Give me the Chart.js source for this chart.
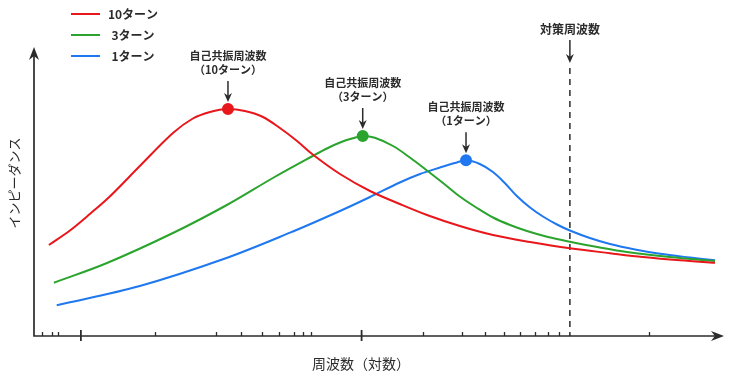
<!DOCTYPE html>
<html lang="ja">
<head>
<meta charset="utf-8">
<script src="https://cdn.jsdelivr.net/npm/chart.js@4.4.1/dist/chart.umd.min.js"></script>
<style>
  html, body { margin: 0; padding: 0; background: #fff; }
  #wrap { width: 729px; height: 379px; position: relative; }
</style>
</head>
<body>
<div id="wrap"><canvas id="chart"></canvas></div>
<script>
// x = log10(frequency) in decades from the first major tick, y = impedance (arbitrary units)
const turnLabels = ['10ターン', '3ターン', '1ターン'];
const seriesColors = ['#e8171c', '#2ba42e', '#1f78f0'];

const freq10 = [-0.114, -0.039, 0.032, 0.103, 0.210, 0.328, 0.399, 0.460, 0.524, 0.584, 0.645, 0.709, 0.770, 0.826,
                0.923, 1.030, 1.136, 1.233, 1.350, 1.468, 1.600, 1.742, 1.885, 2.002, 2.134, 2.259];
const imp10  = [91, 105.5, 122, 139.5, 170, 203, 217.5, 224, 227, 225, 219.5, 208, 195, 181.5,
                162, 145, 132, 121, 110, 101, 94, 87.7, 82.8, 79, 75.7, 73.3];

const freq3 = [-0.096, 0.093, 0.328, 0.520, 0.684, 0.826, 0.880, 0.930, 0.969, 1.004, 1.047, 1.112, 1.172,
               1.233, 1.290, 1.350, 1.411, 1.468, 1.529, 1.589, 1.664, 1.742, 1.849, 1.945, 2.098, 2.259];
const imp3  = [53.3, 73, 103, 131, 158, 180, 188, 194.2, 197.7, 200, 198.2, 190, 178.5,
               165.5, 153, 139.5, 128, 118.5, 111, 105, 99, 94.3, 88.5, 84, 79, 75];

const freq1 = [-0.086, 0.210, 0.506, 0.745, 0.923, 1.030, 1.136, 1.208, 1.279, 1.332, 1.372, 1.421, 1.468,
               1.510, 1.553, 1.600, 1.646, 1.696, 1.742, 1.813, 1.885, 1.974, 2.063, 2.170, 2.259];
const imp1  = [30.7, 50, 76.7, 103.3, 125, 139, 153.5, 162, 168.5, 173, 175.7, 172, 164,
               153, 140, 128.5, 119.5, 111.5, 105.5, 98, 92, 86.5, 82.2, 78.5, 75.7];

const majorTicks = [0, 1];
const minorTicks = [-0.140, -0.104, -0.081, 0.263, 0.483, 0.570, 0.644, 0.706, 0.759, 0.790, 0.818,
                    1.217, 1.356, 1.439, 1.508, 1.564, 1.617, 1.665, 1.704, 2.024];
const countermeasureFreq = 1.742;

const xTitle = '周波数（対数）';
const yTitle = 'インピーダンス';
const peakTitle = '自己共振周波数';
const markerTitle = '対策周波数';

const FONT = '"Noto Sans CJK JP", "Noto Sans", sans-serif';
const INK = '#2b2b2b';

const series = [[freq10, imp10], [freq3, imp3], [freq1, imp1]];

function peakIndex(arr) {
  let k = 0;
  arr.forEach((v, i) => { if (v > arr[k]) k = i; });
  return k;
}

function arrowHead(ctx, x, y, dir, w, len) {
  // dir: 'down' | 'up' | 'right'
  ctx.beginPath();
  if (dir === 'down') {
    ctx.moveTo(x, y); ctx.lineTo(x - w, y - len); ctx.lineTo(x, y - len * 0.7); ctx.lineTo(x + w, y - len);
  } else if (dir === 'up') {
    ctx.moveTo(x, y); ctx.lineTo(x - w, y + len); ctx.lineTo(x, y + len * 0.7); ctx.lineTo(x + w, y + len);
  } else {
    ctx.moveTo(x, y); ctx.lineTo(x - len, y - w); ctx.lineTo(x - len * 0.7, y); ctx.lineTo(x - len, y + w);
  }
  ctx.closePath();
  ctx.fill();
}

function downArrow(ctx, x, y0, y1) {
  ctx.beginPath();
  ctx.moveTo(x, y0);
  ctx.lineTo(x, y1 - 4);
  ctx.stroke();
  arrowHead(ctx, x, y1, 'down', 4, 9);
}

const decorPlugin = {
  id: 'decor',
  beforeDatasetsDraw(chart) {
    const { ctx, chartArea: a, scales: { x } } = chart;
    ctx.save();
    ctx.strokeStyle = INK;
    ctx.fillStyle = INK;
    ctx.lineWidth = 1.7;

    // axes
    ctx.beginPath();
    ctx.moveTo(a.left, a.top + 6);
    ctx.lineTo(a.left, a.bottom);
    ctx.lineTo(a.right - 6, a.bottom);
    ctx.stroke();
    arrowHead(ctx, a.left, a.top, 'up', 5, 13);
    arrowHead(ctx, a.right, a.bottom, 'right', 5, 13);

    // ticks
    ctx.lineWidth = 1.3;
    minorTicks.forEach(v => {
      const px = Math.round(x.getPixelForValue(v)) + 0.5;
      ctx.beginPath(); ctx.moveTo(px, a.bottom - 4); ctx.lineTo(px, a.bottom); ctx.stroke();
    });
    ctx.lineWidth = 1.8;
    majorTicks.forEach(v => {
      const px = x.getPixelForValue(v);
      ctx.beginPath(); ctx.moveTo(px, a.bottom - 6); ctx.lineTo(px, a.bottom + 5); ctx.stroke();
    });

    // countermeasure frequency
    const cx = x.getPixelForValue(countermeasureFreq);
    ctx.font = `bold 12px ${FONT}`;
    ctx.textAlign = 'center';
    ctx.textBaseline = 'middle';
    ctx.fillText(markerTitle, cx, 29);
    ctx.lineWidth = 1.5;
    downArrow(ctx, cx, 40, 63);
    ctx.setLineDash([6, 5]);
    ctx.beginPath();
    ctx.moveTo(cx, 68);
    ctx.lineTo(cx, a.bottom);
    ctx.stroke();
    ctx.setLineDash([]);

    // axis titles
    ctx.font = `14px ${FONT}`;
    ctx.fillText(xTitle, 361, 364);
    ctx.font = `13px ${FONT}`;
    ctx.save();
    ctx.translate(14, 183);
    ctx.rotate(-Math.PI / 2);
    ctx.fillText(yTitle, 0, 0);
    ctx.restore();

    // legend
    ctx.font = `bold 12px ${FONT}`;
    chart.data.datasets.forEach((ds, i) => {
      const ly = 14 + i * 21;
      ctx.strokeStyle = ds.borderColor;
      ctx.lineWidth = 2;
      ctx.beginPath(); ctx.moveTo(71, ly); ctx.lineTo(100, ly); ctx.stroke();
      ctx.fillStyle = INK;
      ctx.fillText(ds.label, 133, ly);
    });
    ctx.restore();
  },
  afterDatasetsDraw(chart) {
    const { ctx } = chart;
    ctx.save();
    ctx.fillStyle = INK;
    ctx.strokeStyle = INK;
    ctx.lineWidth = 1.5;
    ctx.textAlign = 'center';
    ctx.textBaseline = 'middle';
    ctx.font = `bold 11px ${FONT}`;
    chart.data.datasets.forEach((ds, i) => {
      const k = peakIndex(series[i][1]);
      const p = chart.getDatasetMeta(i).data[k];
      ctx.fillText(peakTitle, p.x, p.y - 53);
      ctx.fillText(`（${ds.label}）`, p.x, p.y - 39);
      downArrow(ctx, p.x, p.y - 28, p.y - 7);
    });
    ctx.restore();
  }
};

const datasets = series.map(([fx, fy], i) => {
  const k = peakIndex(fy);
  return {
    label: turnLabels[i],
    data: fx.map((v, j) => ({ x: v, y: fy[j] })),
    borderColor: seriesColors[i],
    backgroundColor: seriesColors[i],
    borderWidth: 2,
    tension: 0.35,
    pointRadius: fy.map((_, j) => (j === k ? 5 : 0)),
    pointHoverRadius: 0,
    fill: false,
  };
});

new Chart(document.getElementById('chart'), {
  type: 'line',
  plugins: [decorPlugin],
  data: { datasets },
  options: {
    responsive: true,
    maintainAspectRatio: false,
    animation: false,
    layout: { padding: { left: 34, right: 5, top: 47, bottom: 43 } },
    scales: {
      x: { type: 'linear', display: false, min: -0.167, max: 2.291 },
      y: { type: 'linear', display: false, min: 0, max: 289 },
    },
    plugins: {
      legend: { display: false },
      tooltip: { enabled: false },
    },
  },
});
</script>
</body>
</html>
